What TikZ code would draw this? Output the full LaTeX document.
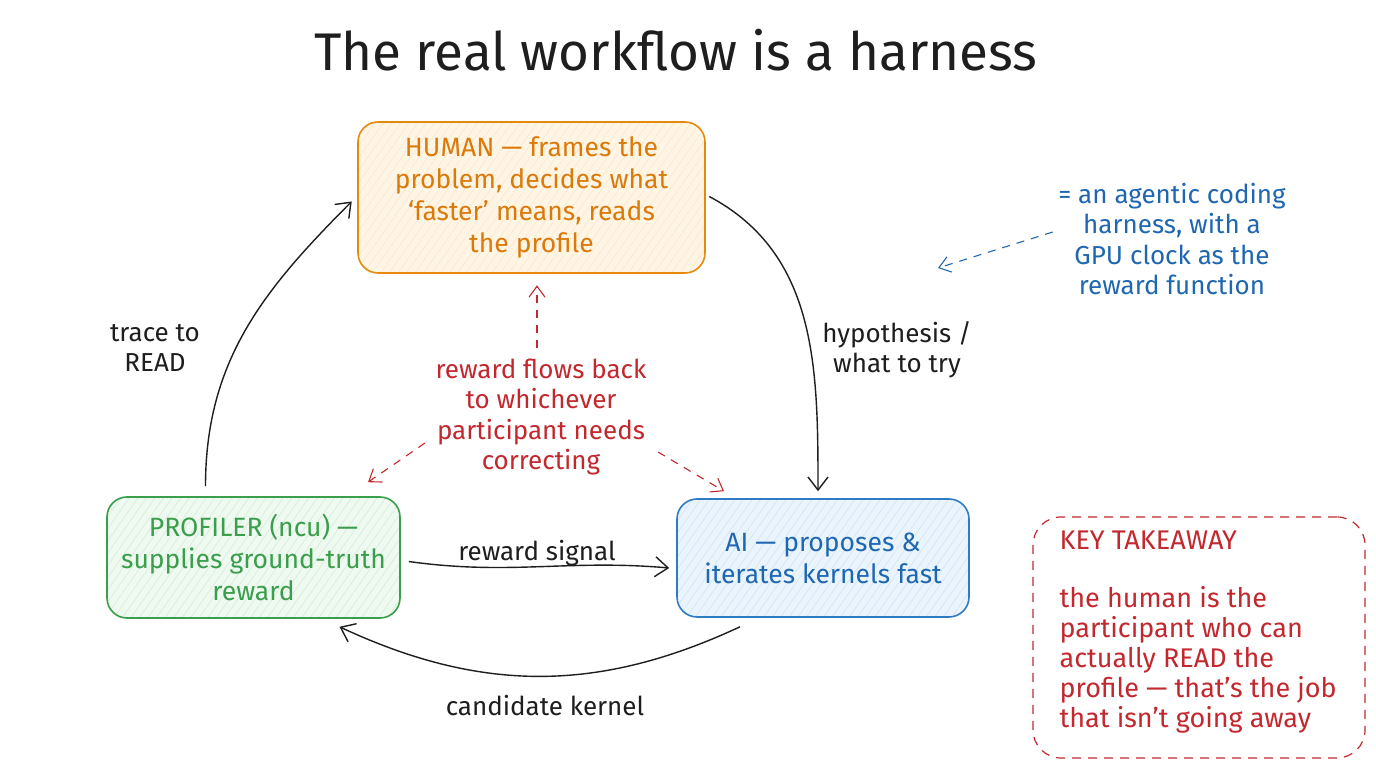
\documentclass[tikz,border=0pt]{standalone}
\usepackage{fontspec}
\setmainfont{Fira Sans}
\usetikzlibrary{arrows.meta,patterns.meta}
\definecolor{orS}{HTML}{E8890C}
\definecolor{orF}{HTML}{FFF5E4}
\definecolor{orT}{HTML}{DB7A0B}
\definecolor{grS}{HTML}{3A9E4C}
\definecolor{grF}{HTML}{EEF9EF}
\definecolor{bluS}{HTML}{2F7BC4}
\definecolor{bluF}{HTML}{E9F4FD}
\definecolor{bluT}{HTML}{1F67B0}
\definecolor{redT}{HTML}{C2282E}
\definecolor{ink}{HTML}{1E1E1E}
\tikzset{
  box/.style={rounded corners=20pt, line width=1.6pt, align=center, inner sep=0pt,
    font=\fontsize{26.5}{32}\selectfont},
  hatch/.style 2 args={draw=#1, text=#1, preaction={fill=#2},
    pattern={Lines[angle=55,distance=7pt,line width=0.5pt]}, pattern color=#1!22},
  flow/.style={draw=ink, line width=1.4pt, -{Straight Barb[length=13pt,width=20pt,line width=1.4pt]}},
  rdash/.style={draw=redT, line width=1.1pt, dash pattern=on 8pt off 7pt,
    -{Straight Barb[length=11pt,width=16pt,line width=1.1pt]}},
  bdash/.style={draw=bluT, line width=1.1pt, dash pattern=on 8pt off 7pt,
    -{Straight Barb[length=11pt,width=16pt,line width=1.1pt]}},
  txt/.style={align=center, font=\fontsize{26}{30.5}\selectfont},
  lbl/.style={txt, text=ink},
}
\begin{document}
\begin{tikzpicture}[x=1pt,y=1pt]
\useasboundingbox[fill=white] (0,0) rectangle (1376,768);

\node[text=ink, font=\fontsize{53}{56}\selectfont] (title) at (676,718) {The real workflow is a harness};

\node[box, hatch={orS}{orF}, text=orT, minimum width=347pt, minimum height=151pt] (human) at (531.5,570.5)
  {HUMAN — frames the\\problem, decides what\\‘faster’ means, reads\\the profile};
\node[box, hatch={grS}{grF}, minimum width=293pt, minimum height=121pt] (prof) at (253.5,210.5)
  {PROFILER (ncu) —\\supplies ground-truth\\reward};
\node[box, hatch={bluS}{bluF}, text=bluT, minimum width=292pt, minimum height=118pt] (ai) at (823,210)
  {AI — proposes \&\\iterates kernels fast};

\node[draw=redT, line width=1.2pt, dash pattern=on 9pt off 7pt, rounded corners=28pt,
  minimum width=332pt, minimum height=241pt] (key) at (1199,130.5) {};
\node[anchor=north west, text=redT, align=left, inner sep=0pt, font=\fontsize{27}{30}\selectfont]
  (keytxt) at ([shift={(27,-14)}]key.north west)
  {KEY TAKEAWAY\\[28pt]the human is the\\participant who can\\actually READ the\\profile — that’s the job\\that isn’t going away};

\node[txt, text=bluT] (note) at (1172,529)
  {= an agentic coding\\harness, with a\\GPU clock as the\\reward function};
\coordinate (notetip) at (938,500);
\draw[bdash] ([shift={(-2,7)}]note.west) -- (notetip);

\node[lbl] (hyp) at (897,418) {hypothesis /\\what to try};
\node[lbl] (trace) at (155,420) {trace to\\READ};
\node[lbl] (sig) at (537,215) {reward signal};
\node[lbl] (cand) at (545,62) {candidate kernel};
\node[txt, text=redT] (rw) at (541,351)
  {reward flows back\\to whichever\\participant needs\\correcting};

\draw[flow] ([shift={(4,1)}]human.east) to[out=-28,in=90] ([shift={(-5,7)}]ai.north);
\draw[flow] ([shift={(-48,10)}]prof.north) to[out=90,in=-135] ([shift={(-6,-4)}]human.west);
\draw[flow] ([shift={(8,-4)}]prof.east) to[out=-8,in=175] ([shift={(-7,-10)}]ai.west);
\draw[flow] ([shift={(-83,-9)}]ai.south) to[out=-155,in=-25] ([shift={(86,-8)}]prof.south);

\coordinate (rwl) at (425,325);
\coordinate (rwr) at (658,316);
\draw[rdash] ([shift={(-4,7)}]rw.north) -- ([shift={(5.5,-12)}]human.south);
\draw[rdash] (rwl) -- ([shift={(114.5,14)}]prof.north);
\draw[rdash] (rwr) -- ([shift={(-99,7)}]ai.north);
\end{tikzpicture}
\end{document}
